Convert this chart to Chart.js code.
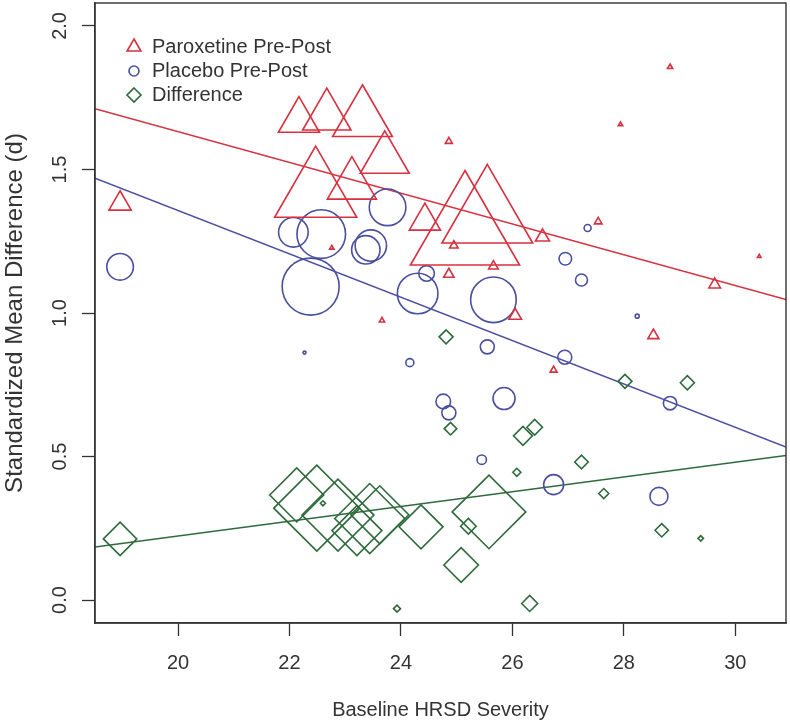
<!DOCTYPE html>
<html>
<head>
<meta charset="utf-8">
<script src="https://cdn.jsdelivr.net/npm/chart.js@4.4.0/dist/chart.umd.min.js"></script>
<style>
  html, body { margin: 0; padding: 0; background: #fff; }
  #wrap { width: 790px; height: 722px; }
</style>
</head>
<body>
<div id="wrap"><canvas id="chart" width="790" height="722"></canvas></div>
<script>
// axis ranges and ticks
const xRange = [18.51, 30.91];
const yRange = [-0.08, 2.08];
const xTicks = [20, 22, 24, 26, 28, 30];
const yTicks = [0, 0.5, 1, 1.5, 2];

// Paroxetine pre-post (triangles)
const parX = [18.96, 22.17, 22.67, 23.31, 23.71, 22.47, 23.12, 24.43, 22.76, 25.15, 25.55, 26.54, 24.95,
              25.66, 24.86, 27.54, 27.94, 28.83, 24.86, 30.43, 29.63, 26.05, 28.53, 26.74, 23.66];
const parY = [1.381, 1.671, 1.686, 1.675, 1.536, 1.416, 1.446, 1.320, 1.227, 1.277, 1.335, 1.265, 1.235,
              1.163, 1.135, 1.318, 1.657, 1.857, 1.598, 1.197, 1.099, 0.991, 0.922, 0.801, 0.974];
const parSize = [12.9, 23.7, 27.9, 34.5, 28.3, 47.4, 28.3, 18, 2.5, 63, 52.4, 8.1, 4.9,
                 5.5, 6, 4.4, 2.5, 3, 4, 2, 6.7, 7.3, 6.4, 4, 3];

// Placebo pre-post (circles)
const plaX = [18.96, 22.07, 22.57, 23.76, 23.37, 23.46, 22.38, 24.46, 24.30, 25.66, 22.27, 24.16, 27.35,
              26.95, 27.24, 28.24, 25.55, 26.94, 28.83, 24.76, 24.86, 25.85, 25.45, 26.74, 28.63];
const plaY = [1.161, 1.281, 1.275, 1.368, 1.220, 1.235, 1.092, 1.138, 1.068, 1.046, 0.862, 0.827, 1.296,
              1.189, 1.115, 0.989, 0.882, 0.846, 0.686, 0.692, 0.652, 0.702, 0.489, 0.402, 0.361];
const plaSize = [13.3, 14.8, 24.3, 18.3, 14.2, 15.7, 28.5, 7.8, 20.3, 22.8, 1.5, 4, 3.5,
                 6.3, 6, 2, 7, 7, 6.7, 7.3, 7, 11, 4.7, 10, 9];

// Difference (diamonds)
const difX = [18.96, 22.13, 22.49, 22.87, 23.44, 23.62, 23.21, 22.60, 24.36, 23.93, 24.81, 24.89, 26.19,
              26.40, 27.24, 26.08, 27.64, 28.68, 29.38, 25.58, 25.21, 25.08, 26.31, 28.02, 29.14];
const difY = [0.213, 0.366, 0.320, 0.296, 0.284, 0.297, 0.242, 0.337, 0.255, -0.03, 0.917, 0.597, 0.572,
              0.602, 0.481, 0.445, 0.371, 0.243, 0.215, 0.307, 0.257, 0.122, -0.012, 0.762, 0.757];
const difSize = [16.7, 27, 43, 36, 35, 29, 25, 2.5, 22, 3.5, 7, 6.3, 9.5,
                 7.8, 6.8, 4, 5, 6.7, 2.7, 36.8, 7.8, 17.3, 8, 7, 7];

// regression lines: [intercept, slope]
const parFit = [2.704, -0.0536];
const plaFit = [2.867, -0.0755];
const difFit = [-0.291, 0.0257];

const RED = '#d7303f', BLUE = '#4a4f9e', GREEN = '#2f6a3c', INK = '#333333';
const FONT = "'Liberation Sans', Arial, Helvetica, sans-serif";

const pts = (xs, ys) => xs.map((x, i) => ({ x: x, y: ys[i] }));
const fitLine = f => xRange.map(x => ({ x: x, y: f[0] + f[1] * x }));

function markerSet(label, xs, ys, sizes, style, color) {
  return {
    label: label,
    data: pts(xs, ys),
    pointStyle: style,
    pointRadius: sizes,
    pointHoverRadius: sizes,
    pointBorderColor: color,
    pointBackgroundColor: 'rgba(0,0,0,0)',
    pointBorderWidth: 1.6,
    showLine: false
  };
}
function lineSet(f, color) {
  return {
    data: fitLine(f),
    showLine: true,
    borderColor: color,
    borderWidth: 1.5,
    pointRadius: 0,
    fill: false
  };
}

// no label overflow padding: the plot box is fixed like in R
function noPad(s) {
  s.paddingTop = 0; s.paddingBottom = 0; s.paddingLeft = 0; s.paddingRight = 0;
}

// R style legend inside the plot plus the box round it
const boxLegend = {
  id: 'boxLegend',
  afterDraw(chart) {
    const ctx = chart.ctx, a = chart.chartArea;
    ctx.save();
    ctx.strokeStyle = INK;
    ctx.lineWidth = 1.4;
    ctx.strokeRect(a.left, a.top, a.right - a.left, a.bottom - a.top);

    const items = [
      { text: 'Paroxetine Pre-Post', color: RED, shape: 'tri' },
      { text: 'Placebo Pre-Post', color: BLUE, shape: 'circ' },
      { text: 'Difference', color: GREEN, shape: 'dia' }
    ];
    const mx = 134, tx = 152;
    ctx.font = '20px ' + FONT;
    ctx.textBaseline = 'middle';
    ctx.textAlign = 'left';
    items.forEach((it, i) => {
      const y = 47 + i * 24;
      ctx.strokeStyle = it.color;
      ctx.lineWidth = 1.6;
      ctx.beginPath();
      if (it.shape === 'tri') {
        const r = 8;
        ctx.moveTo(mx, y - r);
        ctx.lineTo(mx + r * 0.866, y + r / 2);
        ctx.lineTo(mx - r * 0.866, y + r / 2);
        ctx.closePath();
      } else if (it.shape === 'circ') {
        ctx.arc(mx, y, 5, 0, Math.PI * 2);
      } else {
        const r = 7;
        ctx.moveTo(mx, y - r);
        ctx.lineTo(mx + r, y);
        ctx.lineTo(mx, y + r);
        ctx.lineTo(mx - r, y);
        ctx.closePath();
      }
      ctx.stroke();
      ctx.fillStyle = INK;
      ctx.fillText(it.text, tx, y);
    });
    ctx.restore();
  }
};

new Chart(document.getElementById('chart'), {
  type: 'scatter',
  data: {
    datasets: [
      markerSet('Paroxetine Pre-Post', parX, parY, parSize, 'triangle', RED),
      markerSet('Placebo Pre-Post', plaX, plaY, plaSize, 'circle', BLUE),
      markerSet('Difference', difX, difY, difSize, 'rectRot', GREEN),
      lineSet(parFit, RED),
      lineSet(plaFit, BLUE),
      lineSet(difFit, GREEN)
    ]
  },
  options: {
    responsive: false,
    animation: false,
    devicePixelRatio: 1,
    layout: { autoPadding: false, padding: { top: 3, right: 4, left: 0, bottom: 0 } },
    plugins: {
      legend: { display: false },
      tooltip: { enabled: false }
    },
    scales: {
      x: {
        type: 'linear',
        min: xRange[0],
        max: xRange[1],
        afterBuildTicks: s => { s.ticks = xTicks.map(v => ({ value: v })); },
        afterFit: s => { s.height = 99; noPad(s); },
        grid: { drawOnChartArea: false, drawTicks: true, tickLength: 13, color: INK, tickColor: INK, tickWidth: 1.3 },
        border: { display: true, color: INK, width: 1.4 },
        ticks: { padding: 15, color: INK, autoSkip: false, maxRotation: 0, font: { family: FONT, size: 20 } },
        title: {
          display: true, text: 'Baseline HRSD Severity', color: INK,
          font: { family: FONT, size: 20 }, padding: { top: 0, bottom: 0 }
        }
      },
      y: {
        type: 'linear',
        min: yRange[0],
        max: yRange[1],
        afterBuildTicks: s => { s.ticks = yTicks.map(v => ({ value: v })); },
        afterFit: s => { s.width = 95; noPad(s); },
        grid: { drawOnChartArea: false, drawTicks: true, tickLength: 13, color: INK, tickColor: INK, tickWidth: 1.3 },
        border: { display: true, color: INK, width: 1.4 },
        ticks: {
          padding: 8, color: INK, minRotation: 90, maxRotation: 90, crossAlign: 'center',
          font: { family: FONT, size: 20 },
          callback: v => Number(v).toFixed(1)
        },
        title: {
          display: true, text: 'Standardized Mean Difference (d)', color: INK,
          font: { family: FONT, size: 24 }, padding: { top: 1, bottom: 0 }
        }
      }
    }
  },
  plugins: [boxLegend]
});
</script>
</body>
</html>
